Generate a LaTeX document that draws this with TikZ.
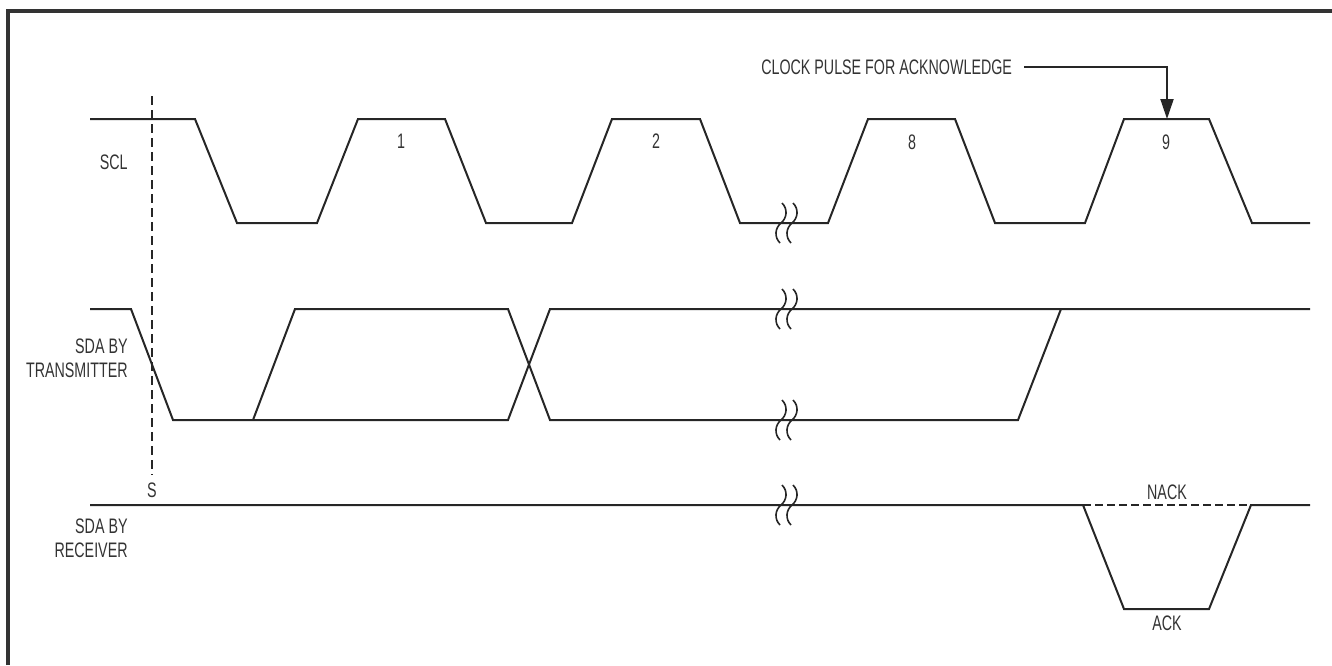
\documentclass[tikz,border=0pt]{standalone}
\usepackage{fontspec}
\setmainfont{Liberation Sans}[FakeStretch=0.68]
\usetikzlibrary{arrows.meta}
\begin{document}
\begin{tikzpicture}[x=0.5pt,y=-0.5pt,
  wave/.style={line width=1pt, line join=miter, draw=black!85},
  dashwave/.style={line width=1pt, draw=black!85, dash pattern=on 4pt off 2pt},
  lbl/.style={font=\fontsize{10.5}{12}\selectfont, text=black!80, inner sep=0pt},
  brk/.pic={\draw[line width=0.8pt, black!85] (1,-20) .. controls (7,-14) and (6,-5) .. (0,0) .. controls (-6,5) and (-7,14) .. (-1,20);}]
\useasboundingbox (0,0) rectangle (1332,665);
\draw[line width=1.6pt, black!80] (8,665) -- (8,11) -- (1332,11);

% SCL
\draw[wave] (90,119) -- (195,119) -- (237,223) -- (317,223) -- (358,119) -- (445,119) -- (486,223) -- (572,223) -- (612,119) -- (700,119) -- (740,223) -- (828,223) -- (868,119) -- (955,119) -- (995,223) -- (1085,223) -- (1124,119) -- (1209,119) -- (1252,223) -- (1310,223);

% SDA by transmitter
\draw[wave] (90,309) -- (131,309) -- (173,420) -- (508,420) -- (550,309) -- (1310,309);
\draw[wave] (253,420) -- (295,309) -- (508,309) -- (550,420) -- (1018,420) -- (1061,309);

% SDA by receiver
\draw[wave] (90,505) -- (1083,505) -- (1124,609) -- (1209,609) -- (1251,505) -- (1310,505);
\draw[dashwave] (1083,505) -- (1251,505);

% break marks
\foreach \yy in {223,309,420,505} {
  \pic at (781,\yy) {brk};
  \pic at (792,\yy) {brk};
}

% labels
\node[lbl, anchor=east] (scl) at (128,162) {SCL};
\node[lbl, anchor=east, align=right] (sdat) at (128,358) {SDA BY\\TRANSMITTER};
\node[lbl, anchor=east, align=right] (sdar) at (128,538) {SDA BY\\RECEIVER};
\node[lbl] (n1) at (401,141) {1};
\node[lbl] (n2) at (656,141) {2};
\node[lbl] (n8) at (912,142) {8};
\node[lbl] (n9) at (1166,142) {9};
\node[lbl] (nack) at (1167,492) {NACK};
\node[lbl] (ack) at (1167,623) {ACK};

% start condition
\node[lbl, outer ysep=4pt] (s) at (152,490) {S};
\coordinate (stop) at (152,96);
\draw[line width=0.9pt, black!85, dash pattern=on 4.5pt off 2.5pt] (stop) -- (s.north);

% clock pulse for acknowledge
\node[lbl, anchor=east, outer xsep=6pt] (cpa) at (1024,67) {CLOCK PULSE FOR ACKNOWLEDGE};
\coordinate (ack9) at (1167,119);
\draw[line width=1pt, black!85, -{Triangle[length=10pt,width=6.5pt]}] (cpa.east) -| (ack9);
\end{tikzpicture}
\end{document}
